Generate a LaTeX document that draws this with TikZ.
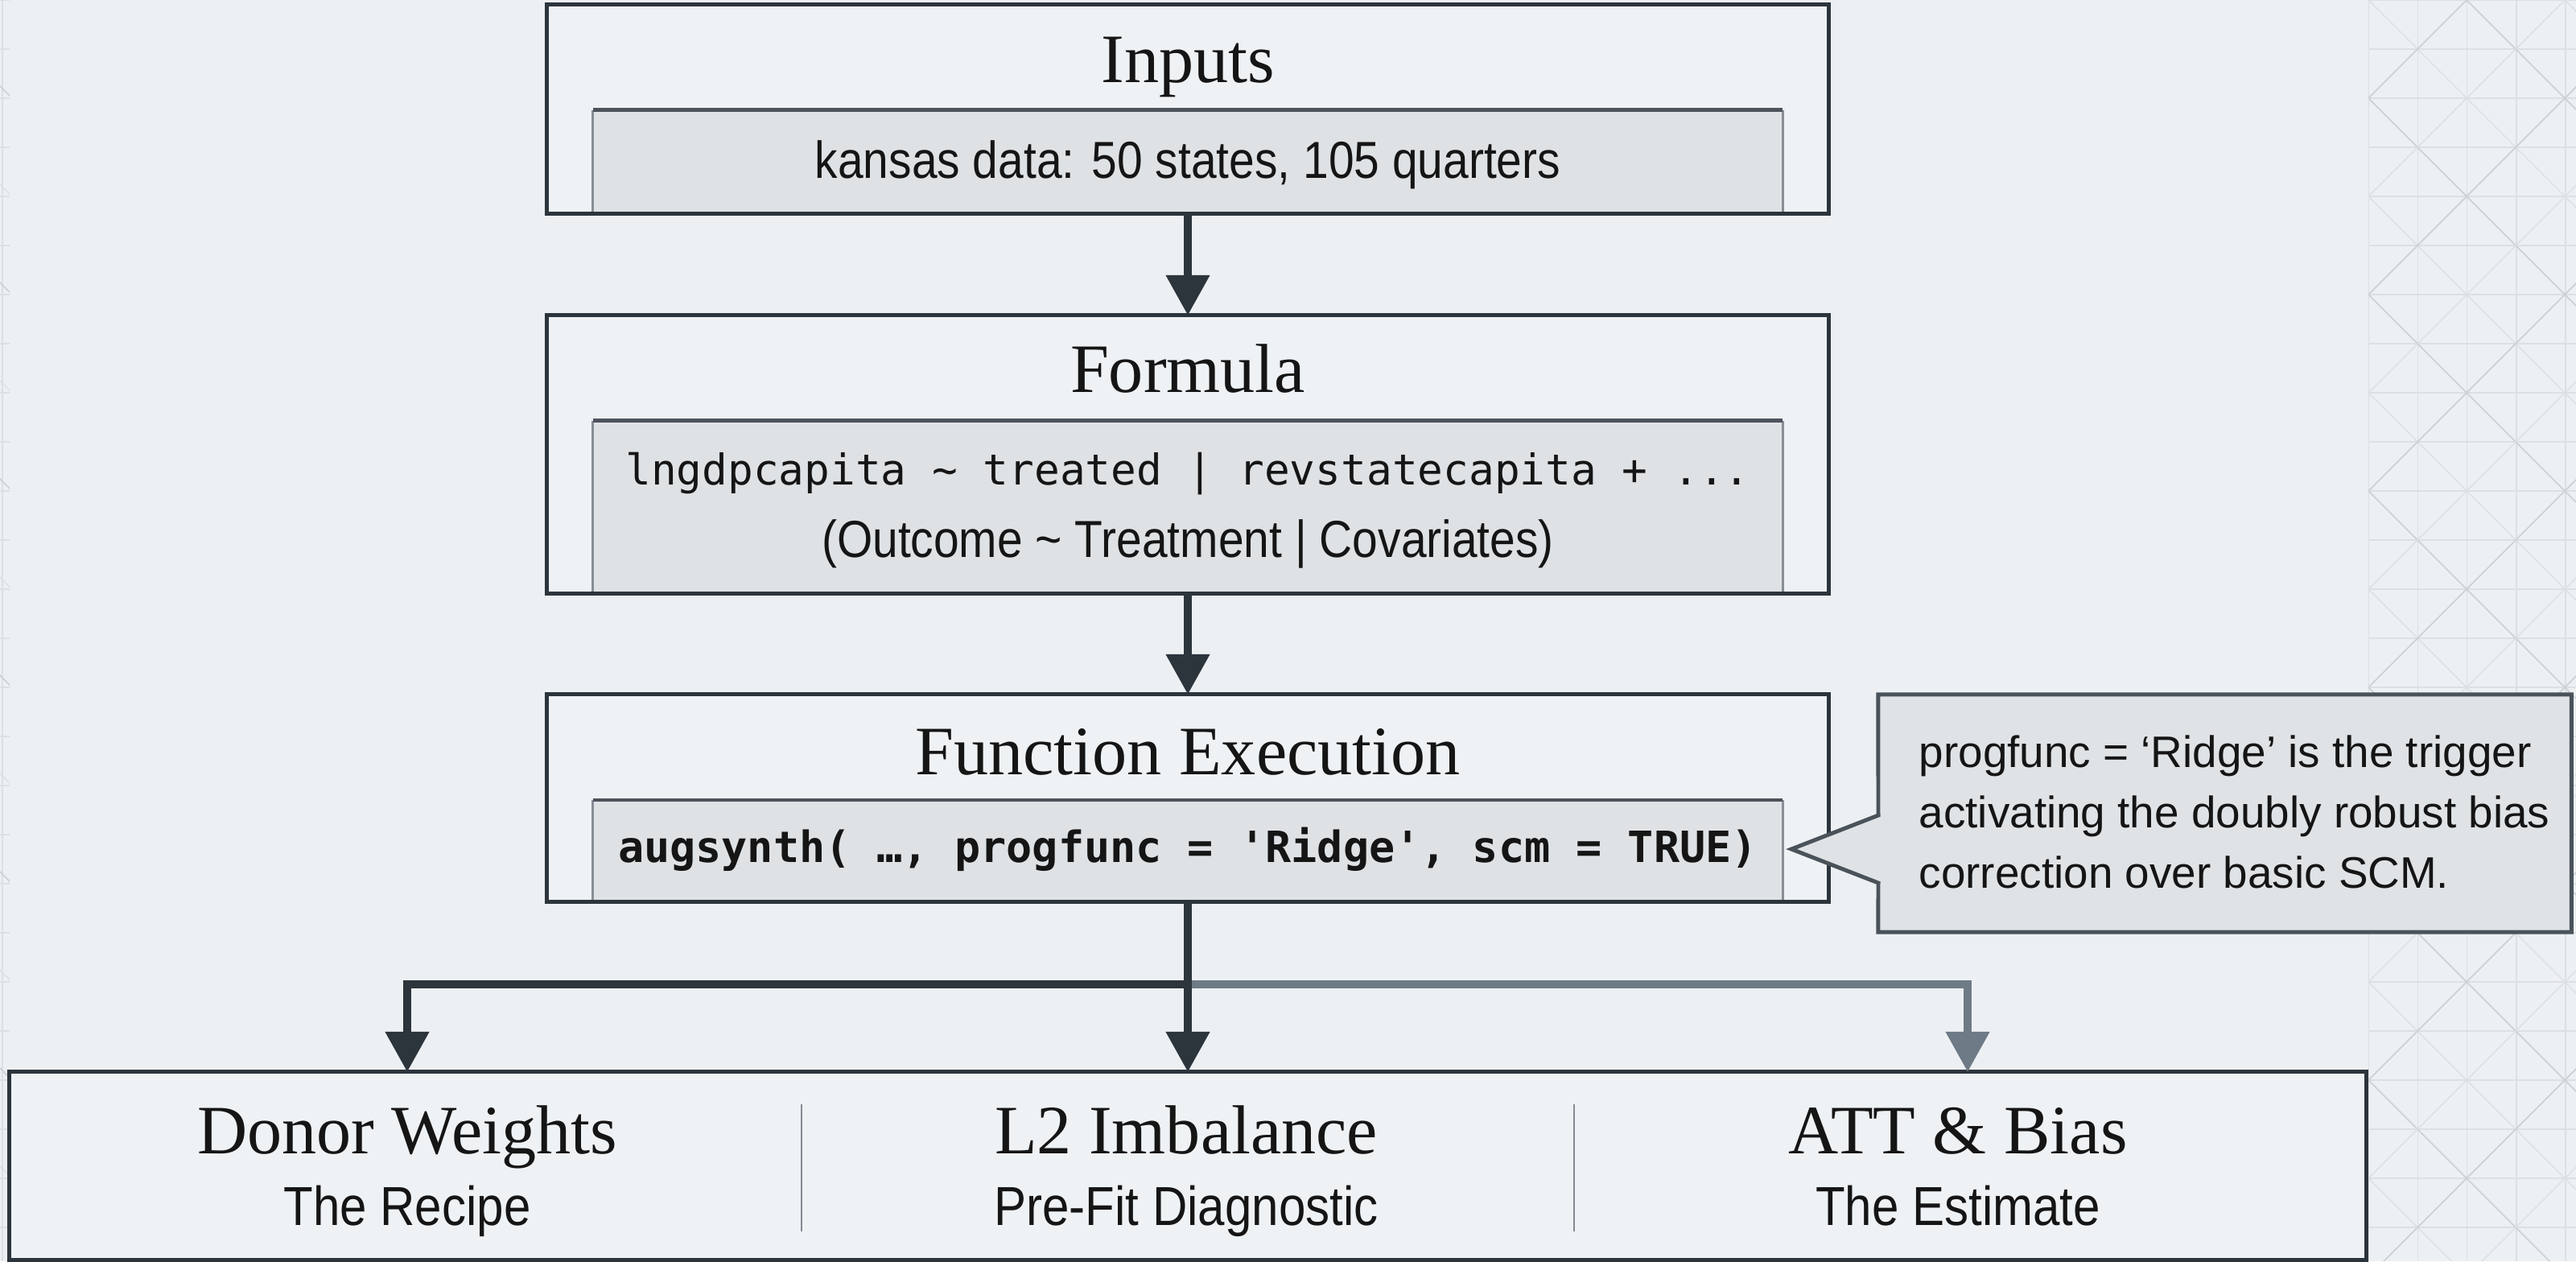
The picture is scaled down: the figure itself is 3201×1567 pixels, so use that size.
\documentclass[tikz,border=0pt]{standalone}
\usepackage{fontspec}
\setmainfont{Liberation Serif}
\setsansfont{Liberation Sans}
\setmonofont{DejaVu Sans Mono}
\newfontfamily\condsans{Liberation Sans}[FakeStretch=0.88]
\usetikzlibrary{arrows.meta}
\definecolor{bg}{HTML}{EDF0F3}
\definecolor{boxfill}{HTML}{EFF2F5}
\definecolor{dark}{HTML}{2C343C}
\definecolor{slate}{HTML}{6E7A86}
\definecolor{innerfill}{HTML}{DFE2E5}
\definecolor{innertopc}{HTML}{4C535B}
\definecolor{innersidec}{HTML}{878E95}
\definecolor{calloutfill}{HTML}{E0E3E6}
\definecolor{calloutline}{HTML}{4A525A}
\definecolor{divc}{HTML}{848B92}
\definecolor{ink}{HTML}{151515}
\definecolor{patA}{HTML}{CDD2D7}
\definecolor{patB}{HTML}{DCE0E4}
\begin{document}
\begin{tikzpicture}[x=0.01cm,y=-0.01cm,
  outerbox/.style={draw=dark, line width=1.4pt, fill=boxfill, inner sep=0, outer sep=0},
  innerbox/.style={fill=innerfill, draw=none, inner sep=0, outer sep=0},
  innertop/.style={draw=innertopc, line width=1.4pt},
  innerside/.style={draw=innersidec, line width=0.8pt},
  ttl/.style={font=\fontsize{24.5}{29}\selectfont, text=ink, anchor=base, inner sep=0},
  body/.style={font=\condsans\fontsize{18.4}{22}\selectfont, text=ink, anchor=base, inner sep=0},
  code/.style={font=\ttfamily\fontsize{15}{18}\selectfont, text=ink, anchor=base, inner sep=0},
  codebold/.style={font=\ttfamily\bfseries\fontsize{15.2}{18}\selectfont, text=ink, anchor=base, inner sep=0},
  subttl/.style={font=\condsans\fontsize{19.4}{23}\selectfont, text=ink, anchor=base, inner sep=0},
  notetext/.style={font=\sffamily\fontsize{15.6}{21.3}\selectfont, text=ink, align=left, anchor=north west, inner sep=0},
  conn/.style={draw=dark, line width=3pt, -{Triangle[width=0.52cm,length=0.5cm]}},
  connlight/.style={draw=slate, line width=3pt, -{Triangle[width=0.52cm,length=0.5cm]}},
  divider/.style={draw=divc, line width=0.8pt},
  callout/.style={draw=calloutline, fill=calloutfill, line width=1.4pt, line join=miter},
  patline/.style={draw=patB, line width=0.45pt},
  patdiag/.style={draw=patA, line width=0.5pt},
  patdiagb/.style={draw=patB, line width=0.4pt}
]
\useasboundingbox (0,0) rectangle (3201,1567);
\fill[bg] (0,0) rectangle (3201,1567);

% background lattice
\begin{scope}
  \clip (2943,0) rectangle (3201,1567) (0,0) rectangle (12,1567);
  \foreach \i in {-48,0,1,2,3,4} \draw[patline] (2943+61.25*\i,0) -- (2943+61.25*\i,1567);
  \foreach \k in {0,...,26} \draw[patline] (-10,61*\k) -- (3210,61*\k);
  \foreach \m in {-4,...,40} {
    \pgfmathsetmacro{\c}{122*\m}
    \ifodd\m
      \draw[patdiag] (-10,{\c-2953}) -- (3210,{\c+267});
      \draw[patdiag] (-10,{\c+2953}) -- (3210,{\c-267});
    \else
      \draw[patdiagb] (-10,{\c-2953}) -- (3210,{\c+267});
      \draw[patdiagb] (-10,{\c+2953}) -- (3210,{\c-267});
    \fi
  }
\end{scope}

% Inputs
\node[outerbox, minimum width=15.92cm, minimum height=2.59cm] (inputs) at (1476,135.5) {};
\node[innerbox, minimum width=14.78cm, minimum height=1.255cm] (inputsin) at (1476,199.75) {};
\draw[innerside] (inputsin.south west) -- (inputsin.north west);
\draw[innerside] (inputsin.south east) -- (inputsin.north east);
\draw[innertop] (inputsin.north west) -- (inputsin.north east);
\node[ttl] (inputst) at (1476,103) {Inputs};
\node[body] (inputsd) at (1476,222) {kansas data: 50 states, 105 quarters};

% Formula
\node[outerbox, minimum width=15.92cm, minimum height=3.45cm] (formula) at (1476,564.5) {};
\node[innerbox, minimum width=14.78cm, minimum height=2.115cm] (formulain) at (1476,628.75) {};
\draw[innerside] (formulain.south west) -- (formulain.north west);
\draw[innerside] (formulain.south east) -- (formulain.north east);
\draw[innertop] (formulain.north west) -- (formulain.north east);
\node[ttl] (formulat) at (1476,487) {Formula};
\node[code] (formulac) at (1476,602) {lngdpcapita \textasciitilde{} treated | revstatecapita + ...};
\node[body] (formulad) at (1476,692) {(Outcome \textasciitilde{} Treatment | Covariates)};

% Function execution
\node[outerbox, minimum width=15.92cm, minimum height=2.57cm] (func) at (1476,991.5) {};
\node[innerbox, minimum width=14.78cm, minimum height=1.235cm] (funcin) at (1476,1055.75) {};
\draw[innerside] (funcin.south west) -- (funcin.north west);
\draw[innerside] (funcin.south east) -- (funcin.north east);
\draw[innertop] (funcin.north west) -- (funcin.north east);
\node[ttl] (funct) at (1476,962) {Function Execution};
\node[codebold] (funcc) at (1476,1071) {augsynth( …, progfunc = 'Ridge', scm = TRUE)};

% Callout
\node[inner sep=0, outer sep=0, minimum width=8.61cm, minimum height=2.95cm] (note) at (2764.5,1010.5) {};
\coordinate (tip) at (2226,1055);
\filldraw[callout] (note.north west) -- (note.north east) -- (note.south east) -- (note.south west)
  -- (2334,1097) -- (tip) -- (2334,1013) -- cycle;
\node[notetext] (notet) at (2384,913) {progfunc = ‘Ridge’ is the trigger\\activating the doubly robust bias\\correction over basic SCM.};

% Outputs
\node[outerbox, minimum width=29.28cm, minimum height=2.33cm] (outputs) at (1476,1448.5) {};
\draw[divider] (996,1372) -- (996,1530);
\draw[divider] (1956,1372) -- (1956,1530);
\node[ttl] (dwt) at (506,1433) {Donor Weights};
\node[subttl] (dws) at (506,1522) {The Recipe};
\node[ttl] (l2t) at (1474,1433) {L2 Imbalance};
\node[subttl] (l2s) at (1474,1522) {Pre-Fit Diagnostic};
\node[ttl] (attt) at (2433,1433) {ATT \& Bias};
\node[subttl] (atts) at (2433,1522) {The Estimate};

% Connectors
\coordinate (fork) at (1476,1223);
\coordinate (inA) at (506,1332);
\coordinate (inB) at (1476,1332);
\coordinate (inC) at (2445,1332);
\draw[conn] (inputs.south) -- (formula.north);
\draw[conn] (formula.south) -- (func.north);
\draw[connlight] (fork) -| (inC);
\draw[conn] (fork) -| (inA);
\draw[conn] (func.south) -- (inB);
\end{tikzpicture}
\end{document}
